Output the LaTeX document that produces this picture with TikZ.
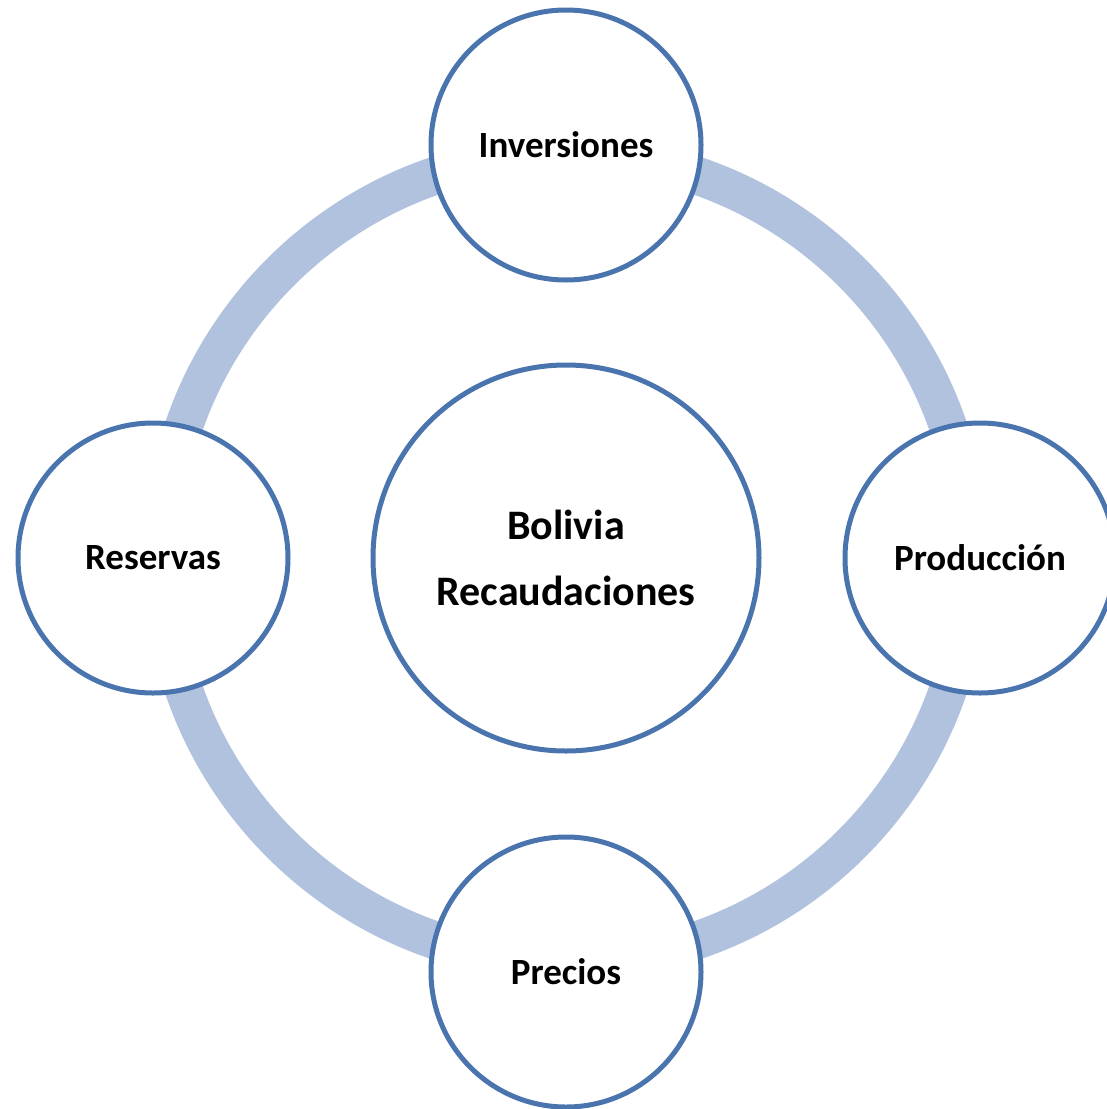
\documentclass[tikz,border=0pt]{standalone}
\usepackage{fontspec}
\setmainfont{Carlito}
\definecolor{ringblue}{HTML}{B0C2DE}
\definecolor{lineblue}{HTML}{4A74AE}
\begin{document}
\begin{tikzpicture}[x=1pt,y=-1pt,
  bub/.style={circle, draw=lineblue, line width=5pt, fill=white, inner sep=0pt, minimum size=270pt, font=\fontsize{37}{44}\selectfont\bfseries},
  hub/.style={bub, minimum size=386pt, align=center, font=\fontsize{42}{66}\selectfont\bfseries}]
\useasboundingbox (0,0) rectangle (1107,1109);
\clip (0,0) rectangle (1107,1109);
\coordinate (mid) at (566,558);
\draw[ringblue, line width=38pt] (mid) circle [radius=404pt];
\node[hub] (hub) at (mid) {Bolivia\\Recaudaciones};
\node[bub] (inv) at (566,145) {Inversiones};
\node[bub] (prod) at (980,558) {Producción};
\node[bub] (prec) at (566,972) {Precios};
\node[bub] (res) at (153,558) {Reservas};
\end{tikzpicture}
\end{document}
